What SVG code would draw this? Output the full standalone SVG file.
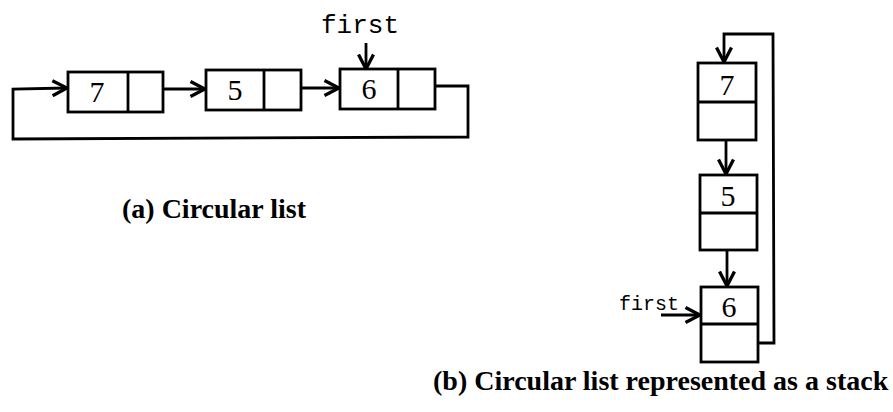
<svg xmlns="http://www.w3.org/2000/svg" width="893" height="412" viewBox="0 0 893 412">
<style>
.box{fill:#fff;stroke:#000;stroke-width:2.8}
.ln{fill:none;stroke:#000;stroke-width:2.8}
.dig{font-family:"Liberation Serif",serif;font-size:30px;text-anchor:middle}
.mono{font-family:"Liberation Mono",monospace}
.cap{font-family:"Liberation Serif",serif;font-weight:bold;font-size:28px}
</style>
<defs>
<marker id="ah" markerUnits="userSpaceOnUse" markerWidth="18" markerHeight="18" viewBox="0 0 18 18" refX="16.5" refY="9" orient="auto">
<path d="M2,1.5 L16.5,9 L2,16.5" fill="none" stroke="#000" stroke-width="3.3"/>
</marker>
</defs>
<rect width="893" height="412" fill="#fff"/>
<g id="connectors">
<path class="ln" d="M148,89 L205,89" marker-end="url(#ah)"/>
<path class="ln" d="M283,88 L339,88" marker-end="url(#ah)"/>
<path class="ln" d="M418,86 L468,86 L468,137 L13,139 L13,89 L67,88" marker-end="url(#ah)"/>
<path class="ln" d="M366,43 L366,69" marker-end="url(#ah)"/>
<path class="ln" d="M726,123 L726,174" marker-end="url(#ah)"/>
<path class="ln" d="M727,235 L727,286" marker-end="url(#ah)"/>
<path class="ln" d="M724,343 L774,343 L773,34 L724,34 L724,62" marker-end="url(#ah)"/>
<path class="ln" d="M661,315 L700,315" marker-end="url(#ah)"/>
</g>
<g id="a7">
<rect class="box" x="68" y="72" width="95" height="40"/>
<line class="ln" x1="128" y1="72" x2="128" y2="112"/>
<text class="dig" x="97" y="102">7</text>
</g>
<g id="a5">
<rect class="box" x="206" y="70" width="95" height="40"/>
<line class="ln" x1="264" y1="70" x2="264" y2="110"/>
<text class="dig" x="235" y="100">5</text>
</g>
<g id="a6">
<rect class="box" x="340" y="69" width="95" height="40"/>
<line class="ln" x1="398" y1="69" x2="398" y2="109"/>
<text class="dig" x="369" y="99">6</text>
</g>
<text class="mono" x="321" y="33" font-size="26">first</text>
<text class="cap" x="122" y="218">(a) Circular list</text>
<g id="b7">
<rect class="box" x="698" y="63" width="58" height="77"/>
<line class="ln" x1="698" y1="102" x2="756" y2="102"/>
<text class="dig" x="727" y="95">7</text>
</g>
<g id="b5">
<rect class="box" x="700" y="175" width="57" height="75"/>
<line class="ln" x1="700" y1="213" x2="757" y2="213"/>
<text class="dig" x="728" y="206">5</text>
</g>
<g id="b6">
<rect class="box" x="701" y="287" width="57" height="75"/>
<line class="ln" x1="701" y1="324" x2="758" y2="324"/>
<text class="dig" x="729" y="317">6</text>
</g>
<text class="mono" x="619" y="310" font-size="20">first</text>
<text class="cap" x="433" y="390">(b) Circular list represented as a stack</text>
</svg>
